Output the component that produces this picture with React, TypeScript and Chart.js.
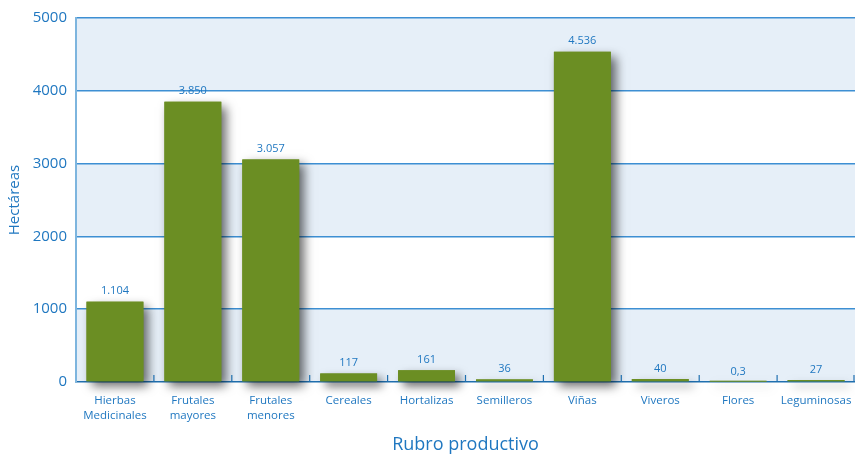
import React, { useEffect, useRef } from "react";
import { Chart, registerables } from "chart.js";

Chart.register(...registerables);

const categories: (string | string[])[] = [
  ["Hierbas", "Medicinales"],
  ["Frutales", "mayores"],
  ["Frutales", "menores"],
  "Cereales",
  "Hortalizas",
  "Semilleros",
  "Viñas",
  "Viveros",
  "Flores",
  "Leguminosas",
];
const hectareas: number[] = [1104, 3850, 3057, 117, 161, 36, 4536, 40, 0.3, 27];
const valueLabels: string[] = ["1.104", "3.850", "3.057", "117", "161", "36", "4.536", "40", "0,3", "27"];
const yTicks: number[] = [0, 1000, 2000, 3000, 4000, 5000];

const TEXT = "#1f77c0";
const FONT = "'Open Sans', 'Noto Sans', sans-serif";
const GREEN = "#6b8e23";

const bandsPlugin = {
  id: "bands",
  beforeDraw(chart: any) {
    const { ctx, chartArea } = chart;
    const y = chart.scales.y;
    ctx.save();
    ctx.fillStyle = "#e6eff8";
    for (let i = 0; i < yTicks.length - 1; i++) {
      if (i % 2 === 0) {
        const top = y.getPixelForValue(yTicks[i + 1]);
        const bottom = y.getPixelForValue(yTicks[i]);
        ctx.fillRect(chartArea.left, top, chartArea.right - chartArea.left, bottom - top);
      }
    }
    ctx.restore();
  },
};

const shadowPlugin = {
  id: "barShadow",
  beforeDatasetsDraw(chart: any) {
    const ctx = chart.ctx;
    const meta = chart.getDatasetMeta(0);
    ctx.save();
    ctx.shadowColor = "rgba(0,0,0,0.6)";
    ctx.shadowBlur = 10;
    ctx.shadowOffsetX = 5;
    ctx.shadowOffsetY = 5;
    ctx.fillStyle = GREEN;
    meta.data.forEach((bar: any) => {
      const { x, y, base, width } = bar.getProps(["x", "y", "base", "width"], true);
      const top = Math.min(y, base - 0.6);
      ctx.fillRect(x - width / 2, top, width, base - top);
    });
    ctx.restore();
  },
  afterDatasetsDraw(chart: any) {
    const ctx = chart.ctx;
    const meta = chart.getDatasetMeta(0);
    const x = chart.scales.x;
    const { chartArea } = chart;
    ctx.save();
    ctx.strokeStyle = "#2070b0";
    ctx.lineWidth = 1.2;
    const n = categories.length;
    const half = (x.getPixelForValue(1) - x.getPixelForValue(0)) / 2;
    for (let i = 1; i <= n; i++) {
      const px = Math.min(x.getPixelForValue(i - 1) + half, chartArea.right - 1);
      ctx.beginPath();
      ctx.moveTo(px, chartArea.bottom - 7);
      ctx.lineTo(px, chartArea.bottom);
      ctx.stroke();
    }
    ctx.restore();
    ctx.save();
    ctx.fillStyle = TEXT;
    ctx.font = `11px ${FONT}`;
    ctx.textAlign = "center";
    ctx.textBaseline = "bottom";
    meta.data.forEach((bar: any, i: number) => {
      ctx.fillText(valueLabels[i], bar.x, bar.y - 5);
    });
    ctx.restore();
  },
};

export default function App() {
  const ref = useRef<HTMLCanvasElement>(null);
  useEffect(() => {
    document.body.style.margin = "0";
    const chart = new Chart(ref.current!, {
      type: "bar",
      data: {
        labels: categories,
        datasets: [
          {
            data: hectareas,
            backgroundColor: GREEN,
            borderWidth: 0,
            categoryPercentage: 1,
            barPercentage: 0.73,
            clip: false as any,
          },
        ],
      },
      options: {
        animation: false,
        responsive: false,
        maintainAspectRatio: false,
        layout: { padding: { top: 18, right: 0, bottom: 0, left: 0 } },
        plugins: { legend: { display: false }, tooltip: { enabled: false } },
        scales: {
          x: {
            grid: { display: false },
            border: { color: "#2070b0", width: 1.5 },
            ticks: {
              color: TEXT,
              font: { family: FONT, size: 11.5, lineHeight: 1.3 },
              padding: 3,
              maxRotation: 0,
              autoSkip: false,
            },
            title: {
              display: true,
              text: "Rubro productivo",
              color: TEXT,
              font: { family: FONT, size: 18, lineHeight: 1.1 },
              padding: 0,
            },
            afterFit(scale: any) {
              scale.height = 73;
            },
          },
          y: {
            min: 0,
            max: 5000,
            ticks: {
              stepSize: 1000,
              color: TEXT,
              font: { family: FONT, size: 15 },
              padding: 9,
              callback: (v: any) => String(v),
            },
            grid: {
              color: (c: any) => (c.tick && c.tick.value === 0 ? "rgba(0,0,0,0)" : "#3d8fd3"),
              lineWidth: 1.5,
              drawTicks: false,
            },
            border: { color: "#7db5de", width: 2 },
            title: {
              display: true,
              text: "Hectáreas",
              color: TEXT,
              font: { family: FONT, size: 15, lineHeight: 1.2 },
              padding: { top: 6, bottom: 0 },
            },
            afterFit(scale: any) {
              scale.width = 76;
            },
          },
        },
      },
      plugins: [bandsPlugin, shadowPlugin],
    });
    return () => chart.destroy();
  }, []);
  return <canvas ref={ref} width={855} height={455} style={{ display: "block" }} />;
}
